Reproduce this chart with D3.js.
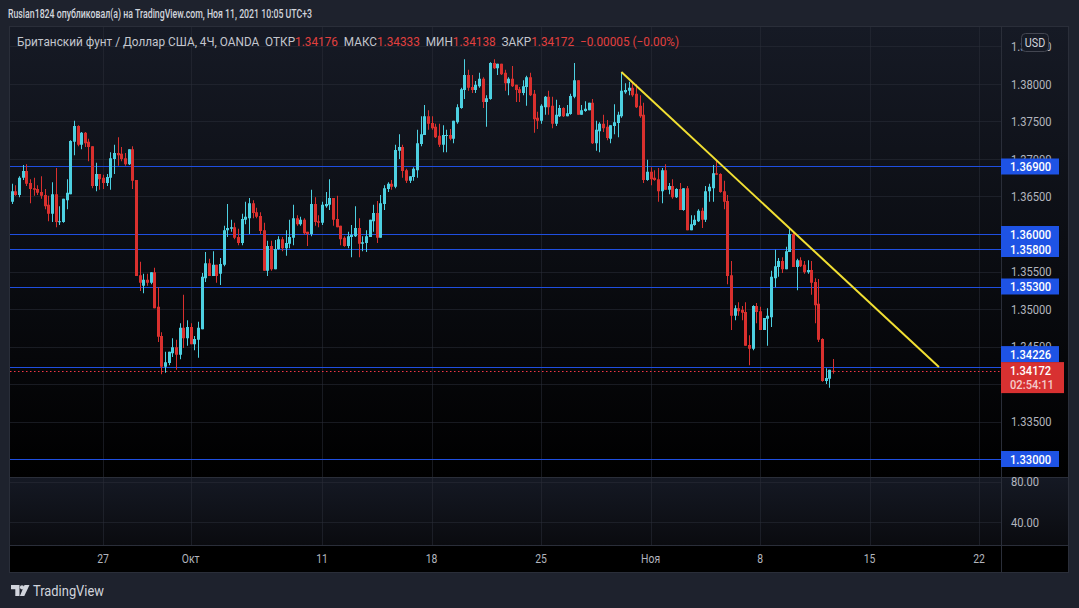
<!DOCTYPE html>
<html><head><meta charset="utf-8">
<script src="https://cdn.jsdelivr.net/npm/d3@7"></script>
<style>html,body{margin:0;padding:0;background:#1e222d;}svg{display:block;font-family:Roboto,"Liberation Sans",sans-serif;}</style>
</head><body><svg id="c" width="1079" height="608"></svg>
<script>
// ---- DATA (GBP/USD 4H, OANDA) : [open, high, low, close] ----
const bars4h = [
[1.3643,1.3667,1.3640,1.3657],[1.3657,1.3665,1.3651,1.3652],[1.3652,1.3677,1.3649,1.3675],[1.3675,1.3692,1.3672,1.3684],
[1.3684,1.3693,1.3664,1.3667],[1.3668,1.3673,1.3641,1.3660],[1.3661,1.3675,1.3651,1.3659],[1.3660,1.3665,1.3652,1.3655],
[1.3656,1.3677,1.3647,1.3651],[1.3652,1.3660,1.3633,1.3637],[1.3639,1.3651,1.3617,1.3627],[1.3627,1.3669,1.3616,1.3653],
[1.3653,1.3688,1.3609,1.3616],[1.3616,1.3637,1.3612,1.3617],[1.3616,1.3647,1.3615,1.3647],[1.3645,1.3673,1.3633,1.3655],
[1.3653,1.3725,1.3653,1.3724],[1.3723,1.3751,1.3705,1.3744],[1.3744,1.3745,1.3717,1.3719],[1.3719,1.3736,1.3713,1.3735],
[1.3735,1.3736,1.3716,1.3721],[1.3723,1.3727,1.3697,1.3716],[1.3717,1.3717,1.3661,1.3664],[1.3664,1.3695,1.3657,1.3680],
[1.3680,1.3680,1.3659,1.3673],[1.3675,1.3679,1.3660,1.3668],[1.3668,1.3680,1.3664,1.3676],[1.3675,1.3709,1.3659,1.3701],
[1.3700,1.3719,1.3680,1.3708],[1.3708,1.3729,1.3691,1.3705],[1.3707,1.3716,1.3697,1.3700],[1.3701,1.3708,1.3691,1.3693],
[1.3693,1.3713,1.3692,1.3713],[1.3713,1.3717,1.3660,1.3671],[1.3672,1.3672,1.3544,1.3544],[1.3545,1.3563,1.3524,1.3535],
[1.3531,1.3547,1.3521,1.3539],[1.3539,1.3547,1.3531,1.3535],[1.3535,1.3549,1.3533,1.3549],[1.3549,1.3555,1.3501,1.3501],
[1.3503,1.3529,1.3456,1.3463],[1.3464,1.3469,1.3413,1.3423],[1.3423,1.3443,1.3415,1.3429],[1.3428,1.3443,1.3425,1.3443],
[1.3441,1.3461,1.3436,1.3449],[1.3449,1.3459,1.3419,1.3439],[1.3439,1.3481,1.3433,1.3475],[1.3475,1.3519,1.3448,1.3461],
[1.3461,1.3485,1.3451,1.3476],[1.3476,1.3481,1.3453,1.3453],[1.3453,1.3464,1.3445,1.3460],[1.3459,1.3483,1.3435,1.3475],
[1.3473,1.3548,1.3473,1.3543],[1.3541,1.3576,1.3536,1.3561],[1.3561,1.3567,1.3544,1.3544],[1.3544,1.3577,1.3544,1.3559],
[1.3559,1.3559,1.3535,1.3544],[1.3547,1.3568,1.3532,1.3560],[1.3559,1.3611,1.3557,1.3605],[1.3605,1.3640,1.3596,1.3608],
[1.3607,1.3619,1.3603,1.3609],[1.3609,1.3615,1.3593,1.3595],[1.3596,1.3607,1.3585,1.3588],[1.3588,1.3627,1.3585,1.3620],
[1.3619,1.3643,1.3613,1.3623],[1.3621,1.3648,1.3600,1.3641],[1.3641,1.3645,1.3621,1.3628],[1.3629,1.3635,1.3621,1.3623],
[1.3624,1.3629,1.3600,1.3604],[1.3605,1.3615,1.3551,1.3551],[1.3551,1.3591,1.3544,1.3584],[1.3584,1.3591,1.3551,1.3553],
[1.3553,1.3592,1.3553,1.3580],[1.3580,1.3597,1.3579,1.3593],[1.3593,1.3596,1.3577,1.3581],[1.3581,1.3605,1.3571,1.3588],
[1.3587,1.3619,1.3581,1.3596],[1.3595,1.3639,1.3585,1.3621],[1.3621,1.3625,1.3611,1.3613],[1.3613,1.3623,1.3611,1.3619],
[1.3619,1.3621,1.3599,1.3601],[1.3603,1.3603,1.3584,1.3600],[1.3600,1.3659,1.3597,1.3640],[1.3640,1.3649,1.3611,1.3616],
[1.3617,1.3625,1.3609,1.3615],[1.3615,1.3643,1.3612,1.3639],[1.3637,1.3656,1.3635,1.3640],[1.3639,1.3673,1.3632,1.3648],
[1.3648,1.3648,1.3611,1.3619],[1.3620,1.3651,1.3609,1.3609],[1.3611,1.3611,1.3585,1.3593],[1.3595,1.3597,1.3583,1.3584],
[1.3584,1.3603,1.3581,1.3597],[1.3596,1.3612,1.3569,1.3599],[1.3597,1.3637,1.3596,1.3608],[1.3608,1.3621,1.3569,1.3587],
[1.3587,1.3597,1.3577,1.3589],[1.3588,1.3605,1.3576,1.3597],[1.3596,1.3619,1.3596,1.3619],[1.3617,1.3639,1.3603,1.3628],
[1.3628,1.3644,1.3588,1.3595],[1.3595,1.3652,1.3595,1.3641],[1.3640,1.3665,1.3632,1.3661],[1.3660,1.3669,1.3656,1.3667],
[1.3667,1.3672,1.3659,1.3663],[1.3663,1.3719,1.3661,1.3712],[1.3711,1.3733,1.3700,1.3716],[1.3716,1.3719,1.3675,1.3684],
[1.3685,1.3687,1.3668,1.3671],[1.3671,1.3677,1.3668,1.3677],[1.3676,1.3689,1.3671,1.3687],[1.3685,1.3739,1.3675,1.3721],
[1.3720,1.3757,1.3717,1.3733],[1.3732,1.3772,1.3732,1.3757],[1.3757,1.3765,1.3739,1.3747],[1.3748,1.3757,1.3739,1.3741],
[1.3743,1.3747,1.3728,1.3729],[1.3731,1.3747,1.3716,1.3719],[1.3719,1.3745,1.3709,1.3732],[1.3731,1.3739,1.3709,1.3732],
[1.3732,1.3740,1.3725,1.3727],[1.3727,1.3751,1.3721,1.3751],[1.3749,1.3773,1.3747,1.3769],[1.3768,1.3795,1.3767,1.3793],
[1.3792,1.3833,1.3780,1.3812],[1.3812,1.3819,1.3791,1.3795],[1.3796,1.3812,1.3788,1.3792],[1.3792,1.3804,1.3788,1.3799],
[1.3797,1.3815,1.3795,1.3807],[1.3807,1.3809,1.3768,1.3776],[1.3776,1.3785,1.3743,1.3781],[1.3780,1.3829,1.3779,1.3828],
[1.3828,1.3833,1.3820,1.3821],[1.3821,1.3827,1.3812,1.3827],[1.3827,1.3827,1.3812,1.3813],[1.3815,1.3819,1.3791,1.3801],
[1.3801,1.3809,1.3785,1.3807],[1.3807,1.3824,1.3796,1.3797],[1.3799,1.3799,1.3776,1.3792],[1.3793,1.3796,1.3776,1.3788],
[1.3788,1.3805,1.3785,1.3797],[1.3796,1.3811,1.3771,1.3809],[1.3809,1.3815,1.3784,1.3785],[1.3787,1.3792,1.3735,1.3753],
[1.3755,1.3763,1.3740,1.3751],[1.3751,1.3773,1.3747,1.3771],[1.3769,1.3784,1.3759,1.3783],[1.3783,1.3791,1.3759,1.3769],
[1.3771,1.3783,1.3741,1.3747],[1.3747,1.3779,1.3744,1.3759],[1.3757,1.3772,1.3756,1.3768],[1.3768,1.3769,1.3756,1.3757],
[1.3757,1.3772,1.3757,1.3761],[1.3760,1.3787,1.3759,1.3784],[1.3783,1.3828,1.3781,1.3805],[1.3805,1.3805,1.3759,1.3759],
[1.3759,1.3772,1.3759,1.3765],[1.3764,1.3777,1.3763,1.3767],[1.3765,1.3775,1.3765,1.3775],[1.3775,1.3780,1.3720,1.3721],
[1.3721,1.3751,1.3711,1.3739],[1.3737,1.3749,1.3709,1.3747],[1.3747,1.3759,1.3736,1.3741],[1.3743,1.3752,1.3725,1.3728],
[1.3727,1.3745,1.3721,1.3745],[1.3744,1.3773,1.3733,1.3749],[1.3748,1.3763,1.3729,1.3759],[1.3757,1.3816,1.3755,1.3791],
[1.3789,1.3801,1.3787,1.3792],[1.3791,1.3803,1.3785,1.3795],[1.3795,1.3801,1.3783,1.3785],[1.3787,1.3800,1.3768,1.3769],
[1.3771,1.3785,1.3755,1.3757],[1.3759,1.3775,1.3668,1.3672],[1.3672,1.3699,1.3671,1.3683],[1.3683,1.3689,1.3665,1.3673],
[1.3675,1.3685,1.3671,1.3672],[1.3673,1.3688,1.3643,1.3657],[1.3657,1.3688,1.3641,1.3685],[1.3685,1.3693,1.3659,1.3659],
[1.3659,1.3668,1.3653,1.3664],[1.3664,1.3673,1.3647,1.3649],[1.3649,1.3661,1.3648,1.3660],[1.3660,1.3668,1.3632,1.3632],
[1.3632,1.3661,1.3631,1.3661],[1.3661,1.3664,1.3605,1.3605],[1.3605,1.3625,1.3605,1.3613],[1.3612,1.3625,1.3611,1.3619],
[1.3617,1.3633,1.3616,1.3631],[1.3631,1.3635,1.3608,1.3619],[1.3619,1.3664,1.3616,1.3657],[1.3657,1.3667,1.3643,1.3663],
[1.3661,1.3692,1.3643,1.3681],[1.3681,1.3699,1.3679,1.3679],[1.3680,1.3681,1.3655,1.3656],[1.3657,1.3671,1.3633,1.3643],
[1.3644,1.3652,1.3533,1.3544],[1.3545,1.3564,1.3472,1.3491],[1.3491,1.3505,1.3485,1.3501],[1.3501,1.3509,1.3491,1.3497],
[1.3499,1.3504,1.3485,1.3495],[1.3496,1.3509,1.3451,1.3451],[1.3452,1.3465,1.3425,1.3447],[1.3447,1.3505,1.3445,1.3504],
[1.3504,1.3508,1.3481,1.3496],[1.3497,1.3503,1.3472,1.3472],[1.3472,1.3488,1.3472,1.3488],[1.3487,1.3501,1.3451,1.3491],
[1.3489,1.3551,1.3476,1.3543],[1.3541,1.3579,1.3529,1.3557],[1.3556,1.3568,1.3543,1.3564],[1.3564,1.3569,1.3548,1.3553],
[1.3553,1.3583,1.3553,1.3577],[1.3576,1.3608,1.3576,1.3600],[1.3600,1.3603,1.3556,1.3556],[1.3556,1.3567,1.3525,1.3565],
[1.3565,1.3569,1.3556,1.3557],[1.3559,1.3564,1.3547,1.3549],[1.3549,1.3565,1.3547,1.3552],[1.3552,1.3564,1.3519,1.3535],
[1.3536,1.3541,1.3481,1.3505],[1.3507,1.3540,1.3456,1.3459],[1.3460,1.3461,1.3403,1.3404],[1.3404,1.3421,1.3400,1.3408],
[1.3407,1.3419,1.3395,1.3419],[1.34176,1.34333,1.34138,1.34172]
];
const priceTicks = [1.330,1.335,1.340,1.345,1.350,1.355,1.360,1.365,1.370,1.375,1.380,1.385];
const levelPrices = [1.369,1.360,1.358,1.353,1.34226,1.330];
const countdown = "02:54:11";
const dateTickBars = [25,49,85,115,145,175,205,235,265];
const dateTickLabels = ["27","Окт","11","18","25","Ноя","8","15","22"];
const trendBars = [167,254];
const trendPrices = [1.3816,1.34226];
const oscTicks = [80,40];
const titleText = "Ruslan1824 опубликовал(а) на TradingView.com, Ноя 11, 2021 10:05 UTC+3";
const symbolText = "Британский фунт / Доллар США, 4Ч, OANDA";
const changeText = "−0.00005 (−0.00%)";

// ---- LAYOUT ----
const L=10, R=1001, AX=1068, T=27, MB=477, OB=545, TB=572;
const svg = d3.select("#c");
const defs = svg.append("defs");
function grad(id, c1, c2){
  const g = defs.append("linearGradient").attr("id",id).attr("x1",0).attr("y1",0).attr("x2",0).attr("y2",1);
  g.append("stop").attr("offset",0).attr("stop-color",c1);
  g.append("stop").attr("offset",1).attr("stop-color",c2);
}
grad("gMain","#161a25","#000000");
grad("gOsc","#151924","#0a0b0f");
defs.append("clipPath").attr("id","clipMain").append("rect").attr("x",L).attr("y",T).attr("width",R-L).attr("height",MB-T);

svg.append("rect").attr("width",1079).attr("height",608).attr("fill","#1e222d");
svg.append("rect").attr("x",L).attr("y",T).attr("width",AX-L).attr("height",MB-T).attr("fill","url(#gMain)");
svg.append("rect").attr("x",L).attr("y",MB).attr("width",AX-L).attr("height",OB-MB).attr("fill","url(#gOsc)");
svg.append("rect").attr("x",L).attr("y",OB).attr("width",AX-L).attr("height",TB-OB).attr("fill","#000");

const x = d3.scaleLinear().domain([-0.5,271]).range([L,R]);
const y = d3.scaleLinear().domain([1.33,1.38]).range([459,84]);
const yo = d3.scaleLinear().domain([17.5,84.5]).range([OB,MB]);

function txt(g, px, py, str, o){
  o = o||{};
  return g.append("text").attr("transform",`translate(${px},${py}) scale(${o.sx||1},1)`)
    .attr("font-size",o.size||12).attr("fill",o.fill||"#b2b5be")
    .attr("text-anchor",o.anchor||"start").attr("font-weight",o.weight||400).text(str);
}

// grid
const grid = svg.append("g").attr("stroke","#2a2e39").attr("stroke-opacity",0.55);
priceTicks.forEach(p=>{ const yy=Math.round(y(p))+0.5; if(yy>T&&yy<MB) grid.append("line").attr("x1",L).attr("x2",R).attr("y1",yy).attr("y2",yy); });
dateTickBars.forEach(b=>{ const xx=Math.round(x(b))+0.5;
  grid.append("line").attr("x1",xx).attr("x2",xx).attr("y1",T).attr("y2",MB);
  grid.append("line").attr("x1",xx).attr("x2",xx).attr("y1",MB).attr("y2",OB);});
oscTicks.forEach(v=>{ const yy=Math.round(yo(v))+0.5; grid.append("line").attr("x1",L).attr("x2",R).attr("y1",yy).attr("y2",yy); });

const main = svg.append("g").attr("clip-path","url(#clipMain)");
levelPrices.forEach(p=>{ const yy=Math.round(y(p))+0.5;
  main.append("line").attr("x1",L).attr("x2",R).attr("y1",yy).attr("y2",yy).attr("stroke","#1f4fe0").attr("stroke-width",1.2);});
const last = bars4h[bars4h.length-1];
const lastPrice = last[3];
main.append("line").attr("x1",L).attr("x2",R).attr("y1",Math.round(y(lastPrice))+0.5).attr("y2",Math.round(y(lastPrice))+0.5)
  .attr("stroke","#f23645").attr("stroke-dasharray","1.5,2.5");

// candles
const up="#4dd0e1", dn="#d9302e";
const cg = main.append("g");
bars4h.forEach((b,i)=>{
  const [o,h,l,c]=b; const col = c>=o?up:dn; const cx=Math.round(x(i));
  cg.append("line").attr("x1",cx+0.5).attr("x2",cx+0.5).attr("y1",y(h)).attr("y2",y(l)).attr("stroke",col).attr("stroke-width",1);
  const top=y(Math.max(o,c)), bot=y(Math.min(o,c));
  cg.append("rect").attr("x",cx-1).attr("width",3).attr("y",top).attr("height",Math.max(1,bot-top)).attr("fill",col);
});
main.append("line").attr("x1",x(trendBars[0])).attr("y1",y(trendPrices[0])).attr("x2",x(trendBars[1])).attr("y2",y(trendPrices[1]))
  .attr("stroke","#f2e033").attr("stroke-width",2);

// separators
const sep = svg.append("g").attr("stroke","#2a2e39").attr("stroke-width",1);
sep.append("line").attr("x1",R+0.5).attr("x2",R+0.5).attr("y1",T).attr("y2",TB);
sep.append("line").attr("x1",L).attr("x2",AX).attr("y1",MB+0.5).attr("y2",MB+0.5);
sep.append("line").attr("x1",L).attr("x2",AX).attr("y1",OB+0.5).attr("y2",OB+0.5);
svg.append("rect").attr("x",L-0.5).attr("y",T-0.5).attr("width",AX-L+1).attr("height",TB-T+1).attr("fill","none").attr("stroke","#2a2e39");

// boxes layout (level markers + last price)
const ly = y(lastPrice);
const redTop = ly-9, redH = 31;
const bh = 16;
const boxes = levelPrices.map(p=>{
  let cy=y(p);
  if(cy+bh/2>redTop && cy-bh/2<redTop+redH) cy = redTop-bh/2;
  return {p, cy};
});
const covered = yy => boxes.some(b=>Math.abs(b.cy-yy)<4) || (yy>redTop+4 && yy<redTop+redH-4);

// price axis labels (skip those fully hidden by markers)
const ax = svg.append("g");
priceTicks.forEach(p=>{ if(!covered(y(p))) txt(ax,1011,y(p)+4.5,d3.format(".5f")(p),{size:13,sx:0.86}); });
oscTicks.forEach(v=>txt(ax,1011,yo(v)+4.5,d3.format(".2f")(v),{size:13,sx:0.86}));
ax.append("rect").attr("x",1021.5).attr("y",33.5).attr("width",27).attr("height",18).attr("rx",4).attr("fill","#161a25").attr("stroke","#434651");
txt(ax,1035,47,"USD",{size:12.5,sx:0.86,anchor:"middle",fill:"#d1d4dc"});

boxes.forEach(b=>{
  ax.append("rect").attr("x",R).attr("y",b.cy-bh/2).attr("width",58).attr("height",bh).attr("fill","#1e53e5");
  txt(ax,1010,b.cy+4.5,d3.format(".5f")(b.p),{size:13,sx:0.86,fill:"#ffffff",weight:500});
});
ax.append("rect").attr("x",R).attr("y",redTop).attr("width",63).attr("height",redH).attr("fill","#d83131");
txt(ax,1010,ly+4,d3.format(".5f")(lastPrice),{size:13,sx:0.86,fill:"#ffffff",weight:500});
txt(ax,1010,ly+18,countdown,{size:13,sx:0.86,fill:"#f4caca",weight:500});

// time axis labels
dateTickBars.forEach((b,i)=>txt(ax,x(b),563,dateTickLabels[i],{size:13,sx:0.8,anchor:"middle"}));

// title
svg.append("text").attr("x",8).attr("y",18).attr("font-size",13).attr("fill","#d1d4dc").attr("font-weight",500)
  .attr("textLength",304).attr("lengthAdjust","spacingAndGlyphs").text(titleText);

// legend
const fmt = d3.format(".5f");
const red="#e0403f", gray="#c3c6ce";
const leg = svg.append("text").attr("x",17).attr("y",46).attr("font-size",12.5).style("white-space","pre")
  .attr("textLength",662).attr("lengthAdjust","spacingAndGlyphs");
[[symbolText+"  ",gray],["ОТКР",gray],[fmt(last[0]),red],["  МАКС",gray],[fmt(last[1]),red],["  МИН",gray],[fmt(last[2]),red],
 ["  ЗАКР",gray],[fmt(last[3]),red],["  "+changeText,red]].forEach(([s,c])=>leg.append("tspan").attr("fill",c).text(s));

// logo
const lg = svg.append("g").attr("fill","#d1d4dc");
lg.append("path").attr("d","M11 585 h8.5 v11 h-4.2 v-6.8 h-4.3 z");
lg.append("circle").attr("cx",22).attr("cy",587.3).attr("r",2.1);
lg.append("path").attr("d","M24.5 585 h5 l-5.2 11 h-4.4 z");
svg.append("text").attr("x",33).attr("y",595.5).attr("font-size",14.5).attr("fill","#d1d4dc")
  .attr("textLength",71).attr("lengthAdjust","spacingAndGlyphs").text("TradingView");
</script></body></html>
